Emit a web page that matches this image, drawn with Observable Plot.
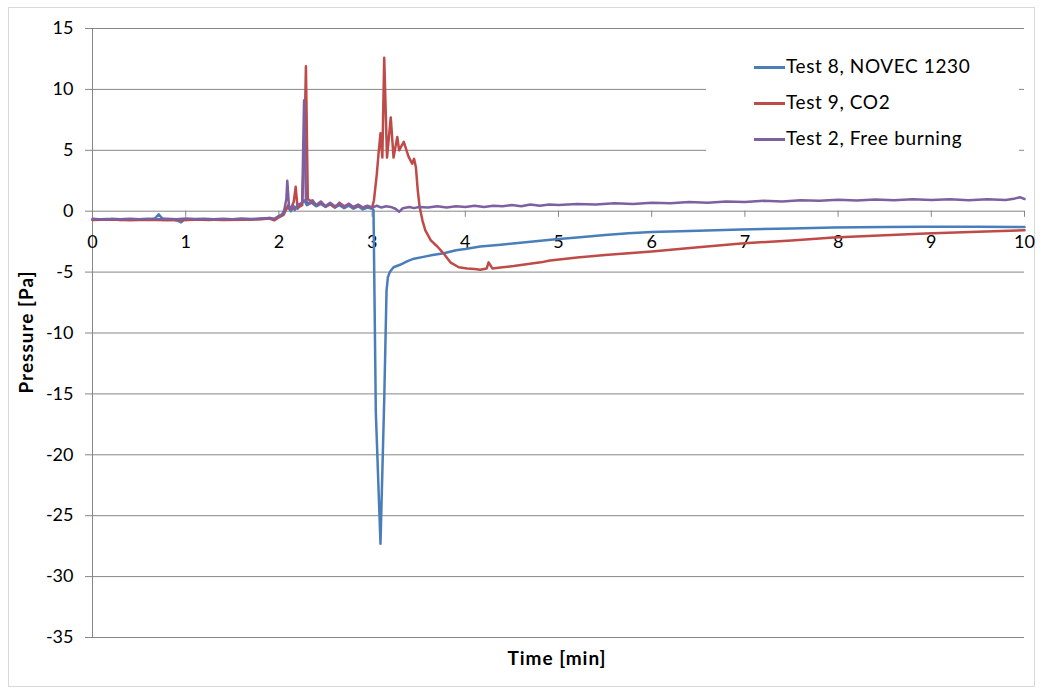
<!DOCTYPE html>
<html><head><meta charset="utf-8">
<script src="https://cdn.jsdelivr.net/npm/d3@7"></script>
<script src="https://cdn.jsdelivr.net/npm/@observablehq/plot@0.6"></script>
<style>
body{margin:0;background:#fff;font-family:Lato,"Open Sans",sans-serif;}
#wrap{position:relative;width:1050px;height:690px;}
#border{position:absolute;left:8px;top:7px;width:1027px;height:680px;border:1px solid #d9d9d9;box-sizing:border-box;}
.lbl{position:absolute;font-weight:bold;font-size:19px;letter-spacing:1px;color:#000;white-space:nowrap;}
#legend{position:absolute;left:706px;top:46px;width:313px;height:112px;background:#fff;}
.li{position:absolute;font-size:19px;letter-spacing:0.6px;color:#000;white-space:nowrap;}
.ls{position:absolute;left:48px;width:31px;height:3px;}
</style></head>
<body><div id="wrap"><div id="border"></div></div>
<script>
const seriesNames = ["Test 8, NOVEC 1230", "Test 9, CO2", "Test 2, Free burning"];
const seriesColors = ["#4a7ebb", "#be4b48", "#7d60a0"];
const yTicks = [15, 10, 5, 0, -5, -10, -15, -20, -25, -30, -35];
const xTicks = [0,1,2,3,4,5,6,7,8,9,10];

const t8x = [0,0.15,0.3,0.45,0.6,0.67,0.71,0.75,0.8,0.88,0.92,0.95,0.98,1.1,1.25,1.4,1.55,1.7,1.85,1.9,1.95,2.0,2.03,2.06,2.1,2.13,2.16,2.2,2.24,2.27,2.3,2.35,2.4,2.45,2.5,2.55,2.6,2.65,2.7,2.75,2.8,2.85,2.9,2.95,3.0,3.015,3.04,3.09,3.13,3.155,3.17,3.19,3.23,3.3,3.38,3.45,3.55,3.65,3.77,3.9,4.0,4.16,4.38,4.7,4.97,5.2,5.5,5.75,6.0,6.5,6.96,7.5,7.95,8.5,8.94,9.5,10];
const t8y = [-0.7,-0.65,-0.72,-0.66,-0.7,-0.6,-0.25,-0.6,-0.68,-0.7,-0.8,-0.92,-0.72,-0.68,-0.72,-0.66,-0.7,-0.68,-0.62,-0.55,-0.7,-0.4,-0.3,0.1,0.3,0.0,0.4,0.2,0.6,0.9,0.5,0.7,0.4,0.6,0.35,0.55,0.3,0.5,0.25,0.45,0.2,0.4,0.15,0.3,0.2,0.1,-16.5,-27.3,-15.5,-6.5,-5.4,-5.0,-4.6,-4.4,-4.1,-3.9,-3.75,-3.6,-3.45,-3.2,-3.1,-2.9,-2.75,-2.5,-2.3,-2.15,-1.95,-1.82,-1.7,-1.6,-1.5,-1.42,-1.34,-1.3,-1.28,-1.27,-1.3];

const t9x = [0,0.2,0.4,0.6,0.8,1.0,1.2,1.4,1.6,1.8,1.9,1.95,2.0,2.05,2.1,2.13,2.16,2.18,2.2,2.25,2.275,2.29,2.31,2.35,2.4,2.45,2.5,2.55,2.6,2.65,2.7,2.75,2.8,2.85,2.9,2.95,3.0,3.02,3.05,3.07,3.09,3.11,3.13,3.16,3.2,3.23,3.27,3.29,3.34,3.39,3.43,3.45,3.47,3.49,3.51,3.54,3.57,3.63,3.7,3.77,3.84,3.93,4.02,4.1,4.16,4.23,4.25,4.29,4.4,4.52,4.81,4.91,5.2,5.5,6.0,6.5,6.96,7.5,7.95,8.5,8.94,9.5,10];
const t9y = [-0.72,-0.68,-0.74,-0.7,-0.75,-0.72,-0.68,-0.73,-0.7,-0.66,-0.6,-0.75,-0.5,-0.3,0.5,0.2,0.8,2.0,0.3,0.5,6,11.9,1.0,0.8,0.5,0.7,0.4,0.6,0.3,0.7,0.4,0.6,0.3,0.5,0.3,0.4,0.3,0.9,3.0,4.8,6.4,4.4,12.6,4.4,7.7,4.4,6.1,5.0,5.7,4.5,3.9,4.3,3.6,1.7,0.35,-0.75,-1.55,-2.4,-2.9,-3.5,-4.2,-4.6,-4.7,-4.75,-4.8,-4.7,-4.2,-4.7,-4.6,-4.5,-4.2,-4.05,-3.8,-3.6,-3.3,-2.95,-2.65,-2.4,-2.16,-1.97,-1.83,-1.68,-1.56];

const t2x = [0,0.1,0.2,0.3,0.4,0.5,0.6,0.7,0.8,0.9,1.0,1.1,1.2,1.3,1.4,1.5,1.6,1.7,1.8,1.9,1.95,2.0,2.05,2.08,2.09,2.11,2.14,2.17,2.2,2.25,2.27,2.29,2.32,2.36,2.4,2.45,2.5,2.55,2.6,2.65,2.7,2.75,2.8,2.85,2.9,2.95,3.0,3.05,3.1,3.15,3.2,3.25,3.29,3.33,3.4,3.45,3.5,3.6,3.7,3.8,3.9,4.0,4.1,4.2,4.3,4.4,4.5,4.6,4.7,4.8,4.9,5.0,5.2,5.4,5.6,5.8,6.0,6.2,6.4,6.6,6.8,7.0,7.2,7.4,7.6,7.8,8.0,8.2,8.4,8.6,8.8,9.0,9.2,9.4,9.6,9.8,9.9,9.95,10];
const t2y = [-0.62,-0.68,-0.63,-0.67,-0.61,-0.66,-0.62,-0.67,-0.63,-0.66,-0.6,-0.65,-0.62,-0.67,-0.62,-0.66,-0.6,-0.65,-0.6,-0.55,-0.62,-0.4,-0.2,1.0,2.5,0.2,0.4,0.1,0.5,0.7,9.1,0.9,0.6,0.9,0.5,0.8,0.4,0.7,0.4,0.6,0.3,0.6,0.35,0.55,0.3,0.45,0.3,0.45,0.3,0.4,0.35,0.2,-0.05,0.25,0.35,0.25,0.35,0.3,0.4,0.3,0.4,0.35,0.45,0.35,0.45,0.4,0.5,0.4,0.55,0.45,0.55,0.5,0.6,0.55,0.65,0.6,0.7,0.65,0.75,0.7,0.8,0.75,0.85,0.8,0.9,0.85,0.95,0.88,0.97,0.9,0.98,0.92,0.98,0.9,0.98,0.92,1.05,1.15,1.0];

const rows = [];
[[t8x,t8y],[t9x,t9y],[t2x,t2y]].forEach(([xs,ys],i)=>xs.forEach((x,j)=>rows.push({s:seriesNames[i],x,y:ys[j]})));

const gray = "#868686";
const chart = Plot.plot({
  width: 1050, height: 690,
  marginLeft: 92, marginRight: 26, marginTop: 28, marginBottom: 53,
  style: {fontFamily: "Lato, 'Open Sans', sans-serif", fontSize: "18px", background: "transparent", overflow: "visible"},
  x: {domain: [0,10], axis: null},
  y: {domain: [-35,15], axis: null},
  color: {domain: seriesNames, range: seriesColors},
  marks: [
    Plot.ruleY(yTicks, {stroke: gray, strokeWidth: 1}),
    Plot.ruleX([0], {y1: -35, y2: 15, stroke: gray}),
    Plot.axisY({ticks: yTicks, tickSize: 7, tickPadding: 12, stroke: gray, fill: "black", fontSize: 18, label: null, tickFormat: d => String(d)}),
    Plot.ruleX(xTicks, {x: d=>d, y1: 0, y2: -0.5, stroke: gray}),
    Plot.text(xTicks, {x: d=>d, y: 0, dy: 31, text: d=>String(d), fontSize: 18, fill: "black"}),
    Plot.line(rows, {x: "x", y: "y", z: "s", stroke: "s", strokeWidth: 2.5, strokeLinejoin: "round"})
  ]
});
const wrap = document.getElementById("wrap");
chart.style.position = "absolute"; chart.style.left = "0"; chart.style.top = "0";
wrap.appendChild(chart);

const ylab = document.createElement("div");
ylab.className = "lbl"; ylab.textContent = "Pressure [Pa]";
ylab.style.left = "25px"; ylab.style.top = "332px";
ylab.style.transform = "translate(-50%,-50%) rotate(-90deg)";
wrap.appendChild(ylab);
const xlab = document.createElement("div");
xlab.className = "lbl"; xlab.textContent = "Time [min]";
xlab.style.left = "557px"; xlab.style.top = "657px";
xlab.style.transform = "translate(-50%,-50%)";
wrap.appendChild(xlab);

const leg = document.createElement("div"); leg.id = "legend";
seriesNames.forEach((n,i)=>{
  const sw = document.createElement("div"); sw.className = "ls";
  sw.style.background = seriesColors[i]; sw.style.top = (20 + i*36) + "px";
  leg.appendChild(sw);
  const t = document.createElement("div"); t.className = "li"; t.textContent = n;
  t.style.left = "80px"; t.style.top = (8 + i*36) + "px";
  leg.appendChild(t);
});
wrap.appendChild(leg);
</script></body></html>
